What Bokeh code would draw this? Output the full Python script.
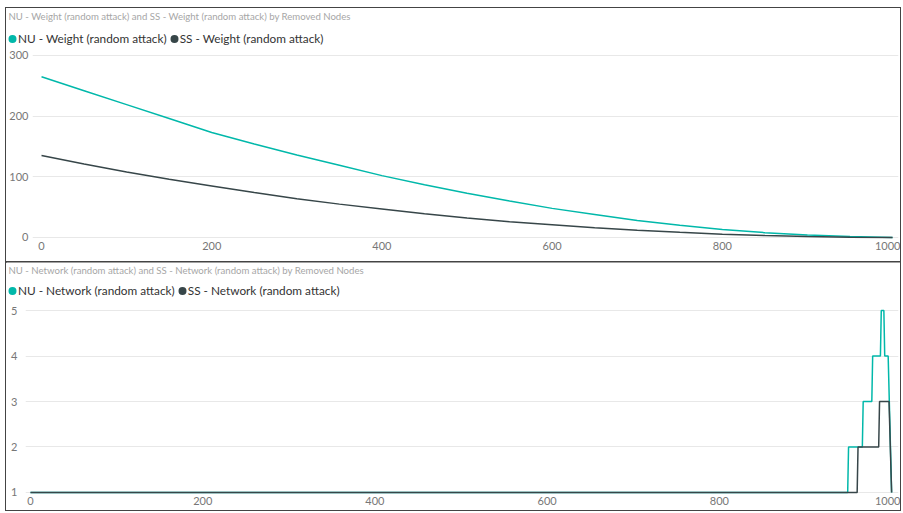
from bokeh.plotting import figure
from bokeh.models import (Legend, LegendItem, ColumnDataSource, FixedTicker, Range1d,
                          Spacer, Label)
from bokeh.layouts import column, row
from bokeh.embed import file_html
from bokeh.resources import INLINE

# ---- data ----
removed_nodes = [0, 50, 100, 150, 200, 250, 300, 350, 400, 450, 500,
                 550, 600, 650, 700, 750, 800, 850, 900, 950, 1000]
nu_weight = [265, 242, 219, 196, 173, 154, 136, 119, 102, 87, 73,
             60, 48, 38, 28, 20, 13, 8, 4, 1.5, 0]
ss_weight = [135, 121, 108, 96, 85, 74, 64, 55, 47, 39, 32,
             26, 21, 16, 12, 8.5, 5.5, 3.2, 1.6, 0.5, 0]

nu_net_x = [0, 949, 950, 966, 967, 977, 978, 987, 988, 991, 992, 996, 1000]
nu_net_y = [1, 1, 2, 2, 3, 3, 4, 4, 5, 5, 4, 4, 1]
ss_net_x = [0, 960, 961, 985, 986, 997, 1000]
ss_net_y = [1, 1, 2, 2, 3, 3, 1]

x_ticks = [0, 200, 400, 600, 800, 1000]
top_y_ticks = [0, 100, 200, 300]
bottom_y_ticks = [1, 2, 3, 4, 5]

top_title = "NU - Weight (random attack) and SS - Weight (random attack) by Removed Nodes"
bottom_title = "NU - Network (random attack) and SS - Network (random attack) by Removed Nodes"
top_labels = ["NU - Weight (random attack)", "SS - Weight (random attack)"]
bottom_labels = ["NU - Network (random attack)", "SS - Network (random attack)"]

TEAL = "#01B8AA"
DARK = "#374649"
FONT = "Lato"
W = 894


def make_header(title, labels, legend_y):
    h = figure(width=W, height=39, output_backend="svg", toolbar_location=None,
               title=None, x_range=Range1d(0, 1), y_range=Range1d(0, 1),
               x_axis_type=None, y_axis_type=None, frame_align=False,
               min_border_left=0, min_border_right=0, min_border_top=0,
               min_border_bottom=0)
    h.outline_line_color = None
    h.grid.visible = False
    h.border_fill_color = "white"
    h.background_fill_color = "white"
    h.add_layout(Label(x=2, y=31, x_units="screen", y_units="screen", text=title,
                       text_font=FONT, text_font_size="9.6px", text_color="#a6a6a6",
                       text_baseline="middle", text_align="left"))
    dots = [h.scatter(x=[-5], y=[-5], size=4, line_width=4, line_color=c, fill_color=c)
            for c in (TEAL, DARK)]
    legend = Legend(items=[LegendItem(label=lab, renderers=[d]) for lab, d in zip(labels, dots)],
                    orientation="horizontal", location=(1, legend_y),
                    border_line_color=None, background_fill_alpha=0,
                    padding=0, margin=0, spacing=2, glyph_width=10, glyph_height=15,
                    label_standoff=1, label_text_font=FONT,
                    label_text_font_size="11.8px", label_text_color="#333333")
    h.add_layout(legend)
    return h


def make_main(height, xr, yr, yticks, series, left, top, bottom, y_standoff):
    p = figure(width=W, height=height, output_backend="svg", toolbar_location=None,
               x_range=Range1d(*xr), y_range=Range1d(*yr),
               min_border_left=left, min_border_right=2, min_border_top=top,
               min_border_bottom=bottom)
    p.outline_line_color = None
    p.background_fill_color = "white"
    p.border_fill_color = "white"
    for (xs, ys), color in zip(series, [TEAL, DARK]):
        src = ColumnDataSource(dict(x=xs, y=ys))
        p.line("x", "y", source=src, line_color=color, line_width=1.5)
    for ax in (p.xaxis[0], p.yaxis[0]):
        ax.axis_line_color = None
        ax.major_tick_line_color = None
        ax.minor_tick_line_color = None
        ax.major_tick_out = 0
        ax.major_tick_in = 0
        ax.minor_tick_out = 0
        ax.minor_tick_in = 0
        ax.major_label_text_color = "#777777"
        ax.major_label_text_font = FONT
        ax.major_label_text_font_size = "11px"
    p.xaxis.major_label_standoff = 2
    p.yaxis.major_label_standoff = y_standoff
    p.xaxis.ticker = FixedTicker(ticks=x_ticks)
    p.yaxis.ticker = FixedTicker(ticks=yticks)
    p.xgrid.visible = False
    p.ygrid.grid_line_color = "#e8e8e8"
    p.ygrid.grid_line_width = 1
    return p


PANEL_STYLE = {"outline": "1px solid #444"}

h1 = make_header(top_title, top_labels, 1)
# top main: page y 47..262, frame 50..239 ; frame x 32..898
p1 = make_main(215, (-10.6, 1007), (-3.3, 308.2), top_y_ticks,
               [(removed_nodes, nu_weight), (removed_nodes, ss_weight)], 26, 3, 23, 4)
h2 = make_header(bottom_title, bottom_labels, 3)
# bottom main: page y 301..510, frame 305..494 ; frame x 25..898
p2 = make_main(209, (-5.8, 1008), (0.956, 5.11), bottom_y_ticks,
               [(nu_net_x, nu_net_y), (ss_net_x, ss_net_y)], 19, 4, 16, 8)

panel1 = column(h1, p1, spacing=0, styles=PANEL_STYLE)
panel2 = column(h2, p2, spacing=0, styles=PANEL_STYLE)

layout = column(Spacer(height=8),
                row(Spacer(width=6), column(panel1, panel2, spacing=0), spacing=0),
                spacing=0)
open("out.html", "w").write(file_html(layout, INLINE))
